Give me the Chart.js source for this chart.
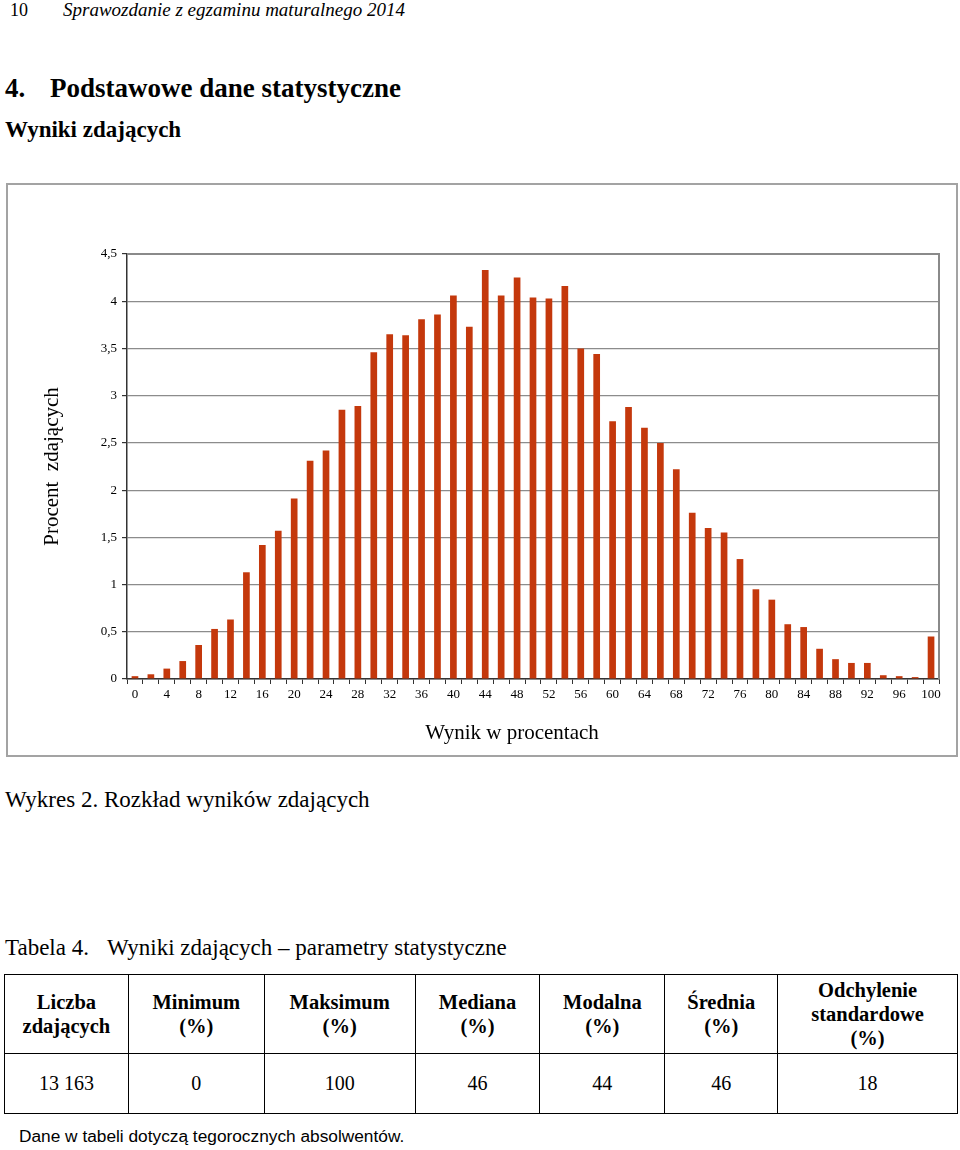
<!DOCTYPE html>
<html lang="pl">
<head>
<meta charset="utf-8">
<title>Rozkład wyników zdających</title>
<script src="https://cdn.jsdelivr.net/npm/chart.js@4/dist/chart.umd.min.js"></script>
<style>
  body { margin: 0; background: #fff; width: 960px; height: 1150px; position: relative; font-family: "Liberation Serif", "Times New Roman", serif; color: #000; }
  .txt { position: absolute; white-space: nowrap; }
  #frame { position: absolute; left: 6px; top: 183px; width: 952px; height: 574px; border: 2px solid #a3a3a3; box-sizing: border-box; }
  #chartBox { position: absolute; left: 0; top: 0; width: 948px; height: 570px; }
  table { position: absolute; left: 4px; top: 974px; width: 954px; border-collapse: collapse; font-size: 20px; }
  td { border: 1px solid #000; text-align: center; padding: 0; }
  tr.head td { height: 78px; font-weight: bold; line-height: 24px; font-size: 20.5px; }
  tr.vals td { height: 59px; }
</style>
</head>
<body>

<div class="txt" style="left:10px; top:-1px; font-size:18px; line-height:22px;">10</div>
<div class="txt" style="left:63px; top:-1px; font-size:19px; line-height:22px; font-style:italic;">Sprawozdanie z egzaminu maturalnego 2014</div>
<div class="txt" style="left:5px; top:72px; font-size:27px; line-height:32px; font-weight:bold;">4.</div>
<div class="txt" style="left:50px; top:72px; font-size:27px; line-height:32px; font-weight:bold;">Podstawowe dane statystyczne</div>
<div class="txt" style="left:5px; top:116px; font-size:23px; line-height:28px; font-weight:bold;">Wyniki zdających</div>

<div id="frame"><div id="chartBox"><canvas id="myChart"></canvas></div></div>

<div class="txt" style="left:5px; top:786px; font-size:23px; line-height:28px;">Wykres 2. Rozkład wyników zdających</div>
<div class="txt" style="left:5px; top:934px; font-size:23px; line-height:28px;">Tabela 4.</div>
<div class="txt" style="left:107px; top:934px; font-size:23px; line-height:28px;">Wyniki zdających – parametry statystyczne</div>

<table id="stats">
  <colgroup>
    <col style="width:124px"><col style="width:136px"><col style="width:151px"><col style="width:125px"><col style="width:125px"><col style="width:113px"><col style="width:180px">
  </colgroup>
  <tr class="head" id="headRow"></tr>
  <tr class="vals" id="valRow"></tr>
</table>

<div class="txt" style="left:19px; top:1125px; font-size:17.3px; line-height:22px; font-family:'Liberation Sans', Arial, sans-serif;">Dane w tabeli dotyczą tegorocznych absolwentów.</div>

<script>
// wynik w procentach (co 2 punkty)
var scoreLabels = [0, 2, 4, 6, 8, 10, 12, 14, 16, 18, 20, 22, 24, 26, 28, 30, 32, 34, 36, 38, 40,
  42, 44, 46, 48, 50, 52, 54, 56, 58, 60, 62, 64, 66, 68, 70, 72, 74, 76, 78, 80,
  82, 84, 86, 88, 90, 92, 94, 96, 98, 100];

// procent zdajacych
var percentValues = [0.03, 0.05, 0.11, 0.19, 0.36, 0.53, 0.63, 1.13, 1.42, 1.57, 1.91,
  2.31, 2.42, 2.85, 2.89, 3.46, 3.65, 3.64, 3.81, 3.86, 4.06,
  3.73, 4.33, 4.06, 4.25, 4.04, 4.03, 4.16, 3.50, 3.44, 2.73,
  2.88, 2.66, 2.50, 2.22, 1.76, 1.60, 1.55, 1.27, 0.95, 0.84,
  0.58, 0.55, 0.32, 0.21, 0.17, 0.17, 0.04, 0.03, 0.02, 0.45];

var yTicks = [0, 0.5, 1, 1.5, 2, 2.5, 3, 3.5, 4, 4.5];

// tabela 4
var tableHeaders = ["Liczba<br>zdających", "Minimum<br>(%)", "Maksimum<br>(%)", "Mediana<br>(%)", "Modalna<br>(%)", "Średnia<br>(%)", "Odchylenie<br>standardowe<br>(%)"];
var tableValues = ["13 163", "0", "100", "46", "44", "46", "18"];

var headRow = document.getElementById("headRow");
var valRow = document.getElementById("valRow");
tableHeaders.forEach(function (h) {
  var td = document.createElement("td");
  td.innerHTML = h;
  headRow.appendChild(td);
});
tableValues.forEach(function (v) {
  var td = document.createElement("td");
  td.textContent = v;
  valRow.appendChild(td);
});

var serif = "'Liberation Serif', 'Times New Roman', serif";

// ramka obszaru wykresu (gora i prawa strona) + podpis osi X
var plotFrame = {
  id: "plotFrame",
  beforeDatasetsDraw: function (chart) {
    var a = chart.chartArea;
    var ctx = chart.ctx;
    ctx.save();
    ctx.strokeStyle = "#8a8a8a";
    ctx.lineWidth = 2;
    ctx.beginPath();
    ctx.moveTo(a.left, a.top);
    ctx.lineTo(a.right, a.top);
    ctx.lineTo(a.right, a.bottom);
    ctx.stroke();
    ctx.restore();
  },
  afterDraw: function (chart) {
    var ctx = chart.ctx;
    ctx.save();
    ctx.fillStyle = "#000";
    ctx.font = "21px " + serif;
    ctx.textAlign = "center";
    ctx.textBaseline = "middle";
    ctx.fillText("Wynik w procentach", 504, 548);
    ctx.restore();
  }
};

new Chart("myChart", {
  type: "bar",
  data: {
    labels: scoreLabels,
    datasets: [
      {
        backgroundColor: "#C4380C",
        data: percentValues,
        barPercentage: 0.42,
        categoryPercentage: 1.0
      }
    ]
  },
  options: {
    responsive: true,
    maintainAspectRatio: false,
    animation: false,
    layout: { padding: { top: 69, right: 17, left: 0, bottom: 0 } },
    plugins: {
      legend: { display: false },
      tooltip: { enabled: false }
    },
    scales: {
      x: {
        type: "category",
        offset: true,
        grid: { display: true, drawOnChartArea: false, offset: true, tickLength: 5, color: "#333", lineWidth: 1 },
        border: { display: true, color: "#333", width: 1.5 },
        ticks: {
          autoSkip: false,
          maxRotation: 0,
          padding: 3,
          color: "#000",
          font: { family: serif, size: 13 },
          callback: function (value, index) {
            return index % 2 === 0 ? String(scoreLabels[index]) : "";
          }
        },
        title: { display: false },
        afterFit: function (scale) { scale.height = 76; }
      },
      y: {
        min: 0,
        max: 4.5,
        afterBuildTicks: function (scale) {
          scale.ticks = yTicks.map(function (v) { return { value: v }; });
        },
        grid: { color: "#8c8c8c", lineWidth: 1.2, tickLength: 5, tickColor: "#333" },
        border: { display: true, color: "#333", width: 1.5 },
        ticks: {
          padding: 5,
          color: "#000",
          font: { family: serif, size: 13 },
          callback: function (value) { return String(value).replace(".", ","); }
        },
        title: {
          display: true,
          text: "Procent  zdających",
          color: "#000",
          font: { family: serif, size: 21 },
          padding: { top: 32, bottom: 0 }
        },
        afterFit: function (scale) { scale.width = 119; }
      }
    }
  },
  plugins: [plotFrame]
});
</script>
</body>
</html>
